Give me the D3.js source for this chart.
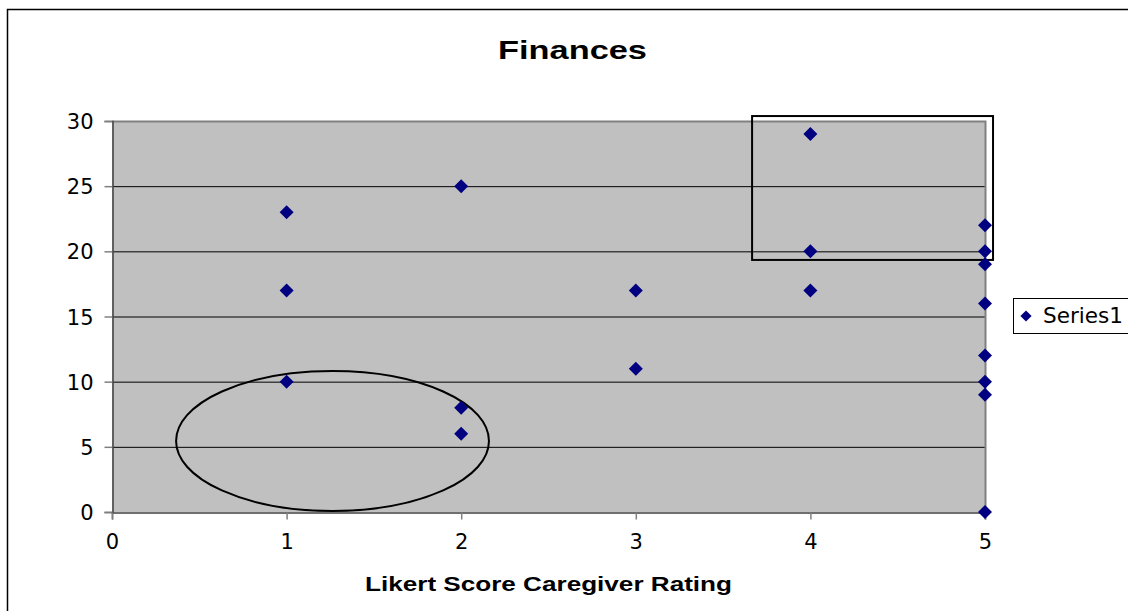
<!DOCTYPE html>
<html>
<meta charset='utf-8'>
<style>
  body{ margin:0; background:#fff }
  text{ fill:#000 }
  .title{ font-family:'Liberation Sans', Arial, sans-serif; font-size:26px; font-weight:bold; text-anchor:middle }
  .xlabel{ font-family:'Liberation Sans', Arial, sans-serif; font-size:21px; font-weight:bold; text-anchor:middle }
</style>
<body>
<script src='https://cdn.jsdelivr.net/npm/d3@7'></script>
<script>
  // Likert score (x) and finances score (y) for every caregiver
  var likert  = [1, 1, 1, 2, 2, 2, 3, 3, 4, 4, 4, 5, 5, 5, 5, 5, 5, 5, 5]
  var finance = [23, 17, 10, 25, 8, 6, 17, 11, 29, 20, 17, 22, 20, 19, 16, 12, 10, 9, 0]
  var xTicks = [0, 1, 2, 3, 4, 5]
  var yTicks = [0, 5, 10, 15, 20, 25, 30]
  var seriesName = 'Series1'

  var W = 1128, H = 611
  var tickFont = "'DejaVu Sans', Verdana, sans-serif"
  var svg = d3.select('body').append('svg').attr('width', W).attr('height', H)

  // outer chart border (runs off the right and bottom edges)
  svg.append('rect').attr('x', 7.5).attr('y', 9.5).attr('width', W + 10).attr('height', H + 10)
    .attr('fill', 'none').attr('stroke', '#000').attr('stroke-width', 1.5)

  var x = d3.scaleLinear().domain([0, 5]).range([112, 985])
  var y = d3.scaleLinear().domain([0, 30]).range([512, 121])

  // plot area
  svg.append('rect').attr('x', x(0)).attr('y', y(30))
    .attr('width', x(5) - x(0)).attr('height', y(0) - y(30)).attr('fill', '#c0c0c0')

  // gridlines
  svg.append('g').selectAll('line').data(yTicks.filter(d => d > 0 && d < 30)).join('line')
    .attr('x1', x(0)).attr('x2', x(5)).attr('y1', d => y(d) + 0.5).attr('y2', d => y(d) + 0.5)
    .attr('stroke', '#000').attr('stroke-width', 1)

  // top and right border of the plot area
  svg.append('path')
    .attr('d', 'M' + x(0) + ',' + (y(30) + 0.5) + 'H' + (x(5) + 0.5) + 'V' + y(0))
    .attr('fill', 'none').attr('stroke', '#808080').attr('stroke-width', 2)

  var yAxis = svg.append('g').attr('transform', 'translate(' + (x(0) + 0.5) + ',0)')
    .call(d3.axisLeft(y).tickValues(yTicks).tickSize(8).tickPadding(11).tickFormat(d3.format('d')))
  var xAxis = svg.append('g').attr('transform', 'translate(0,' + (y(0) + 0.5) + ')')
    .call(d3.axisBottom(x).tickValues(xTicks).tickSize(7).tickPadding(15).tickFormat(d3.format('d')))
  ;[yAxis, xAxis].forEach(function(a){
    a.select('.domain').attr('stroke', '#404040').attr('stroke-width', 1.5)
    a.selectAll('.tick line').attr('stroke', '#808080').attr('stroke-width', 1.5)
    a.selectAll('.tick text').attr('fill', '#000')
      .style('font-family', tickFont).style('font-size', '21px')
  })
  yAxis.selectAll('.tick text').attr('dy', '0.36em')

  // annotations: ellipse round the low scores, box round the high ones
  svg.append('ellipse')
    .attr('cx', x(1.263)).attr('cy', y(5.45))
    .attr('rx', x(0.896) - x(0)).attr('ry', y(0) - y(5.37))
    .attr('fill', 'none').attr('stroke', '#000').attr('stroke-width', 2)
  svg.append('rect')
    .attr('x', x(3.666)).attr('y', y(30.38))
    .attr('width', x(5.046) - x(3.666)).attr('height', y(19.34) - y(30.38))
    .attr('fill', 'none').attr('stroke', '#000').attr('stroke-width', 2)

  // markers
  var diamond = d3.symbol().type(d3.symbolDiamond2).size(125)
  svg.append('g').selectAll('path').data(likert).join('path')
    .attr('transform', (d, i) => 'translate(' + x(d) + ',' + y(finance[i]) + ')')
    .attr('d', diamond).attr('fill', '#000080')

  // title and axis label
  svg.append('text').attr('class', 'title').attr('x', 572.5).attr('y', 59)
    .attr('textLength', 149).attr('lengthAdjust', 'spacingAndGlyphs').text('Finances')
  svg.append('text').attr('class', 'xlabel').attr('x', (x(0) + x(5)) / 2).attr('y', 591)
    .attr('textLength', 367).attr('lengthAdjust', 'spacingAndGlyphs').text('Likert Score Caregiver Rating')

  // legend
  var lg = svg.append('g').attr('transform', 'translate(1013,298)')
  lg.append('rect').attr('x', 0.5).attr('y', 0.5).attr('width', 130).attr('height', 35)
    .attr('fill', '#fff').attr('stroke', '#000').attr('stroke-width', 1)
  lg.append('path').attr('transform', 'translate(13,18)').attr('d', d3.symbol().type(d3.symbolDiamond2).size(80))
    .attr('fill', '#000080')
  lg.append('text').attr('x', 30).attr('y', 25).style('font-size', '21px').style('font-family', tickFont)
    .attr('textLength', 80).attr('lengthAdjust', 'spacingAndGlyphs').text(seriesName)
</script>
</body>
</html>
